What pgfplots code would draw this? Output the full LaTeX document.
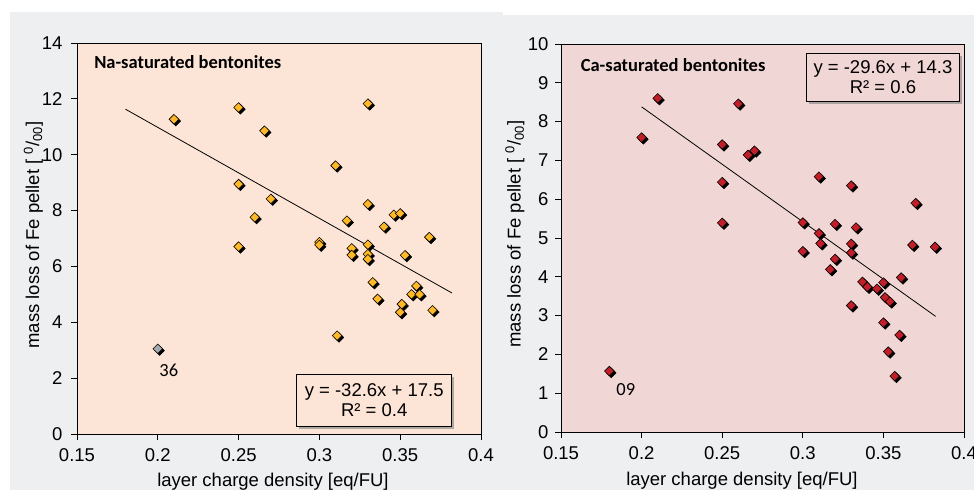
\documentclass[border=0pt]{standalone}
\usepackage{fontspec}
\setmainfont{Liberation Sans}
\newfontfamily\calibri{Carlito}
\usepackage{pgfplots}
\pgfplotsset{compat=1.18}
\usetikzlibrary{shadows}

\definecolor{panelgray}{RGB}{238,239,241}
\definecolor{peach}{RGB}{252,228,214}
\definecolor{rose}{RGB}{241,214,214}
\definecolor{naorange}{RGB}{255,185,40}
\definecolor{cared}{RGB}{192,30,40}
\definecolor{outgray}{RGB}{165,170,175}

\newcommand\fs{\fontsize{18.5bp}{20bp}\selectfont}

% diamond with a black copy behind it, like the Excel shadowed marker
\pgfdeclareplotmark{shdia}{%
  \begin{pgfscope}
    \pgftransformshift{\pgfqpoint{1.8bp}{-1.8bp}}
    \pgfsetfillcolor{black}
    \pgfpathmoveto{\pgfqpoint{0pt}{\pgfplotmarksize}}
    \pgfpathlineto{\pgfqpoint{\pgfplotmarksize}{0pt}}
    \pgfpathlineto{\pgfqpoint{0pt}{-\pgfplotmarksize}}
    \pgfpathlineto{\pgfqpoint{-\pgfplotmarksize}{0pt}}
    \pgfpathclose
    \pgfusepath{fill,stroke}
  \end{pgfscope}
  \pgfpathmoveto{\pgfqpoint{0pt}{\pgfplotmarksize}}
  \pgfpathlineto{\pgfqpoint{\pgfplotmarksize}{0pt}}
  \pgfpathlineto{\pgfqpoint{0pt}{-\pgfplotmarksize}}
  \pgfpathlineto{\pgfqpoint{-\pgfplotmarksize}{0pt}}
  \pgfpathclose
  \pgfusepath{fill,stroke}}

\pgfplotsset{
  bent/.style={
    scale only axis, anchor=south west,
    xmin=0.15, xmax=0.4,
    xtick={0.15,0.2,0.25,0.3,0.35,0.4},
    xticklabels={0.15,0.2,0.25,0.3,0.35,0.4},
    tick align=outside, xtick pos=bottom, ytick pos=left,
    major tick length=6bp,
    tick style={black, line width=0.8bp},
    axis line style={black, line width=0.9bp},
    ticklabel style={font=\fs},
    label style={font=\fs},
    /pgf/number format/assume math mode=true,
    xticklabel style={yshift=-5bp},
  },
  dots/.style={only marks, mark=shdia, mark size=4.8bp,
    mark options={fill=#1, draw=black, line width=0.6bp}},
}

\begin{document}
\begin{tikzpicture}
\useasboundingbox (0,0) rectangle (974bp,490bp);
\fill[white] (0,0) rectangle (974bp,490bp);
\fill[panelgray] (10bp,0) rectangle (503bp,478bp);
\fill[panelgray] (484bp,0) rectangle (974bp,475bp);

% Na panel
\begin{axis}[bent,
  at={(77bp,56bp)}, width=404bp, height=391bp,
  ymin=0, ymax=14, ytick={0,2,...,14},
  axis background/.style={fill=peach},
  yticklabel style={xshift=-5bp},
  xlabel={layer charge density [eq/FU]},
  ylabel={mass loss of Fe pellet [ \textsuperscript{0}/\textsubscript{00}]},
  xlabel style={at={(axis description cs:0.485,0)}, anchor=base, yshift=-52bp},
  ylabel style={at={(axis description cs:-0.094,0.509)}, anchor=base},
]
\addplot[dots=naorange] coordinates {
  (0.21,11.27)(0.25,11.69)(0.266,10.86)(0.33,11.83)(0.31,9.61)
  (0.25,8.95)(0.27,8.42)(0.33,8.23)(0.26,7.76)(0.317,7.64)
  (0.346,7.85)(0.35,7.9)(0.34,7.42)(0.368,7.05)(0.3,6.87)
  (0.3,6.77)(0.32,6.65)(0.32,6.41)(0.33,6.78)(0.33,6.44)
  (0.33,6.26)(0.25,6.71)(0.353,6.4)(0.333,5.43)(0.36,5.3)
  (0.357,5.0)(0.362,5.0)(0.336,4.84)(0.351,4.65)(0.35,4.36)
  (0.37,4.43)(0.311,3.52)};
\addplot[dots=outgray] coordinates {(0.2,3.05)};
\addplot[black, line width=0.8bp] coordinates {(0.18,11.63)(0.382,5.05)};
\node[anchor=base west, font=\calibri\bfseries\fs] at (axis cs:0.1585,13.09) {Na-saturated bentonites};
\node[anchor=base west, font=\calibri\fs, inner sep=0pt] at (axis cs:0.2009,2.05) {36};
\node[draw=black, line width=0.8bp, fill=peach,
  drop shadow={shadow xshift=2.5bp, shadow yshift=-2.5bp, fill=black!50, opacity=0.6},
  minimum width=155bp, minimum height=52bp, align=center, font=\fs, inner sep=0pt]
  at (axis cs:0.3339,1.217) {y = -32.6x + 17.5\\R² = 0.4};
\end{axis}

% Ca panel
\begin{axis}[bent,
  at={(561bp,58bp)}, width=403bp, height=388bp,
  ymin=0, ymax=10, ytick={0,1,...,10},
  axis background/.style={fill=rose},
  yticklabel style={xshift=-3bp},
  xlabel={layer charge density [eq/FU]},
  ylabel={mass loss of Fe pellet [ \textsuperscript{0}/\textsubscript{00}]},
  xlabel style={at={(axis description cs:0.449,0)}, anchor=base, yshift=-53bp},
  ylabel style={at={(axis description cs:-0.1,0.51)}, anchor=base},
]
\addplot[dots=cared] coordinates {
  (0.18,1.57)(0.2,7.59)(0.21,8.6)(0.26,8.46)(0.25,7.41)
  (0.266,7.14)(0.27,7.25)(0.25,6.44)(0.25,5.39)(0.31,6.58)
  (0.33,6.35)(0.37,5.9)(0.3,5.4)(0.32,5.36)(0.333,5.27)
  (0.31,5.12)(0.311,4.86)(0.33,4.85)(0.368,4.82)(0.382,4.77)
  (0.3,4.66)(0.33,4.62)(0.32,4.46)(0.317,4.19)(0.337,3.87)
  (0.34,3.74)(0.35,3.85)(0.346,3.69)(0.361,3.98)(0.351,3.47)
  (0.354,3.36)(0.33,3.26)(0.35,2.82)(0.36,2.5)(0.353,2.07)
  (0.357,1.44)};
\addplot[black, line width=0.8bp] coordinates {(0.2,8.38)(0.3824,2.98)};
\node[anchor=base west, font=\calibri\bfseries\fs] at (axis cs:0.1601,9.286) {Ca-saturated bentonites};
\node[anchor=base west, font=\calibri\fs, inner sep=0pt] at (axis cs:0.1843,0.928) {09};
\node[draw=black, line width=0.8bp, fill=rose,
  drop shadow={shadow xshift=2.5bp, shadow yshift=-2.5bp, fill=black!50, opacity=0.6},
  minimum width=153bp, minimum height=48bp, align=center, font=\fs, inner sep=0pt]
  at (axis cs:0.3497,9.144) {y = -29.6x + 14.3\\R² = 0.6};
\end{axis}
\end{tikzpicture}
\end{document}
